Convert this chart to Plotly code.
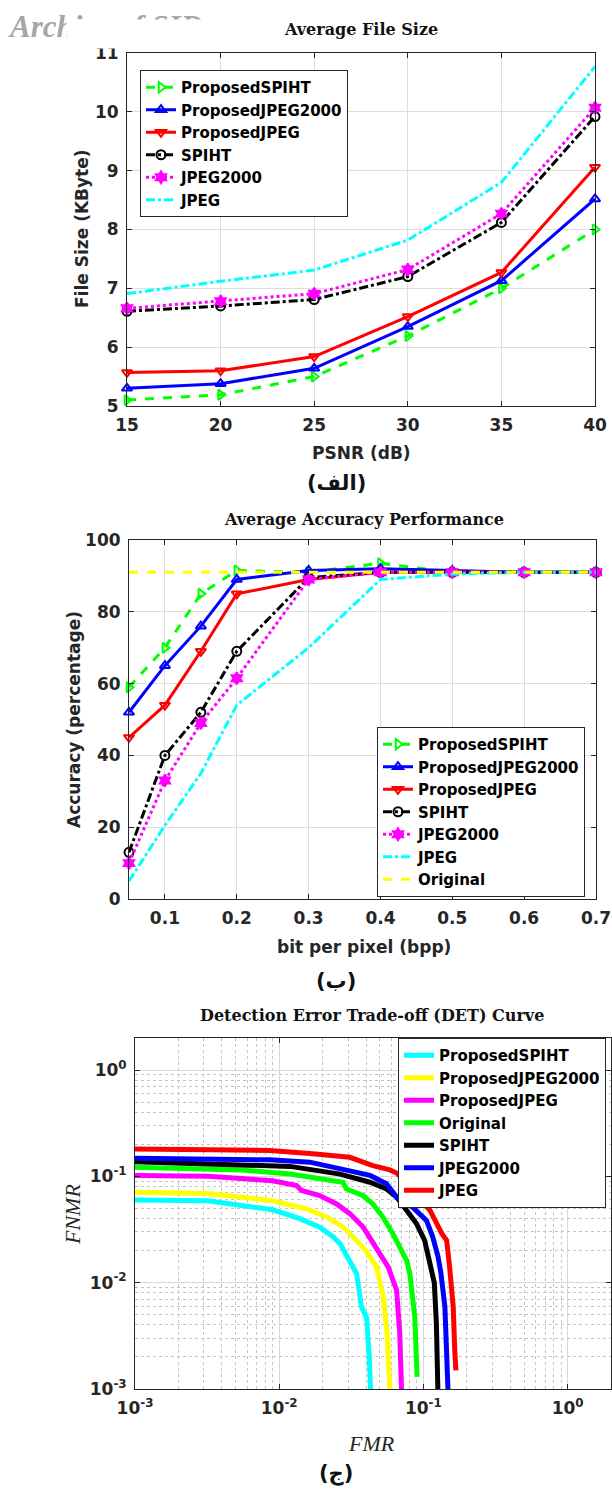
import plotly.graph_objects as go

W, H = 612, 1495

# ---------------- (a) Average File Size ----------------
psnr = [15, 20, 25, 30, 35, 40]
fs_prop_spiht = [5.10, 5.19, 5.50, 6.19, 7.00, 8.00]
fs_prop_jpeg2000 = [5.30, 5.38, 5.64, 6.35, 7.13, 8.52]
fs_prop_jpeg = [5.57, 5.60, 5.84, 6.52, 7.27, 9.06]
fs_spiht = [6.61, 6.70, 6.81, 7.20, 8.12, 9.92]
fs_jpeg2000 = [6.66, 6.78, 6.91, 7.32, 8.27, 10.07]
fs_jpeg = [6.91, 7.12, 7.31, 7.82, 8.80, 10.77]

# ---------------- (b) Average Accuracy Performance ----------------
bpp = [0.05, 0.1, 0.15, 0.2, 0.3, 0.4, 0.5, 0.6, 0.7]
bpp_ticks = [0.1, 0.2, 0.3, 0.4, 0.5, 0.6, 0.7]
bpp_ticktext = ["0.1", "0.2", "0.3", "0.4", "0.5", "0.6", "0.7"]
acc_prop_spiht = [59, 70, 85, 91.5, 91, 93.5, 91, 91, 91]
acc_prop_jpeg2000 = [52, 65, 76, 89, 91.5, 92, 91.5, 91, 91]
acc_prop_jpeg = [45, 54, 69, 85, 89, 91, 91, 91, 91]
acc_spiht = [13, 40, 52, 69, 89.5, 91, 91, 91, 91]
acc_jpeg2000 = [10, 33, 49, 61.5, 89, 91, 91, 91, 91]
acc_jpeg = [5, 20.5, 35, 54, 70, 89, 90.5, 91, 91]
acc_original = [91, 91, 91, 91, 91, 91, 91, 91, 91]

# ---------------- (c) DET curves ----------------
det_ticks = [0.001, 0.01, 0.1, 1]
det_ticktext = ["10<sup>-3</sup>", "10<sup>-2</sup>", "10<sup>-1</sup>", "10<sup>0</sup>"]

det_prop_spiht_fmr = [0.001, 0.0032, 0.009, 0.0139, 0.0191, 0.0237, 0.0264, 0.0309, 0.0344, 0.0372, 0.0404, 0.0421, 0.043]
det_prop_spiht_fnmr = [0.060, 0.059, 0.0485, 0.040, 0.0333, 0.0269, 0.0233, 0.0162, 0.0122, 0.0059, 0.0047, 0.0020, 0.001]

det_prop_jpeg2000_fmr = [0.001, 0.0032, 0.009, 0.0155, 0.0213, 0.0278, 0.0344, 0.0398, 0.0473, 0.0526, 0.056, 0.0585]
det_prop_jpeg2000_fnmr = [0.071, 0.069, 0.059, 0.0495, 0.0414, 0.0333, 0.025, 0.020, 0.0141, 0.0074, 0.0034, 0.001]

det_prop_jpeg_fmr = [0.001, 0.0032, 0.009, 0.0132, 0.0143, 0.0191, 0.025, 0.0309, 0.0382, 0.0448, 0.0513, 0.0569, 0.0652, 0.0685, 0.0705]
det_prop_jpeg_fnmr = [0.102, 0.100, 0.091, 0.082, 0.0736, 0.066, 0.055, 0.0446, 0.0333, 0.0233, 0.0178, 0.0141, 0.0085, 0.0034, 0.001]

det_original_fmr = [0.001, 0.0054, 0.0119, 0.0201, 0.0276, 0.0293, 0.038, 0.0446, 0.0524, 0.0614, 0.0685, 0.0764, 0.0805, 0.0871, 0.0904]
det_original_fnmr = [0.122, 0.115, 0.105, 0.0955, 0.088, 0.076, 0.066, 0.055, 0.0414, 0.0288, 0.0219, 0.0162, 0.0122, 0.0048, 0.0013]

det_spiht_fmr = [0.001, 0.0119, 0.0264, 0.0426, 0.0555, 0.0652, 0.0764, 0.0895, 0.102, 0.112, 0.119, 0.123, 0.126]
det_spiht_fnmr = [0.137, 0.124, 0.105, 0.088, 0.076, 0.064, 0.048, 0.036, 0.025, 0.0141, 0.010, 0.0042, 0.001]

det_jpeg2000_fmr = [0.001, 0.0086, 0.0163, 0.0264, 0.0426, 0.0555, 0.0652, 0.0845, 0.105, 0.116, 0.126, 0.132, 0.141, 0.148]
det_jpeg2000_fnmr = [0.148, 0.143, 0.136, 0.117, 0.102, 0.085, 0.064, 0.051, 0.0385, 0.027, 0.0178, 0.0126, 0.0059, 0.001]

det_jpeg_fmr = [0.001, 0.0025, 0.0086, 0.0163, 0.0309, 0.0446, 0.0585, 0.0655, 0.111, 0.134, 0.145, 0.152, 0.161, 0.165, 0.168]
det_jpeg_fnmr = [0.181, 0.180, 0.175, 0.164, 0.151, 0.126, 0.115, 0.107, 0.048, 0.029, 0.025, 0.014, 0.0059, 0.0023, 0.0015]

GREEN, BLUE, RED, BLACK = "#00FF00", "#0000FF", "#FF0000", "#000000"
MAGENTA, CYAN, YELLOW = "#FF00FF", "#00FFFF", "#FFFF00"


def fx(px):
    return px / W


def fy(py):
    return 1 - py / H


fig = go.Figure()

styles = [
    ("ProposedSPIHT", GREEN, "dash", "triangle-right-open"),
    ("ProposedJPEG2000", BLUE, "solid", "triangle-up-open"),
    ("ProposedJPEG", RED, "solid", "triangle-down-open"),
    ("SPIHT", BLACK, "dashdot", "circle-open"),
    ("JPEG2000", MAGENTA, "dot", "hexagram"),
    ("JPEG", CYAN, "dashdot", None),
]

top_series = [fs_prop_spiht, fs_prop_jpeg2000, fs_prop_jpeg, fs_spiht, fs_jpeg2000, fs_jpeg]
for (name, col, dash, sym), ys in zip(styles, top_series):
    fig.add_trace(go.Scatter(
        x=psnr, y=ys, name=name, xaxis="x", yaxis="y", legend="legend",
        mode="lines+markers" if sym else "lines",
        line=dict(color=col, width=3, dash=dash),
        marker=dict(symbol=sym or "circle", size=9, color=col, line=dict(color=col, width=2)),
        cliponaxis=False,
    ))

mid_series = [acc_prop_spiht, acc_prop_jpeg2000, acc_prop_jpeg, acc_spiht, acc_jpeg2000, acc_jpeg]
for (name, col, dash, sym), ys in zip(styles, mid_series):
    fig.add_trace(go.Scatter(
        x=bpp, y=ys, name=name, xaxis="x2", yaxis="y2", legend="legend2",
        mode="lines+markers" if sym else "lines",
        line=dict(color=col, width=3, dash=dash),
        marker=dict(symbol=sym or "circle", size=9, color=col, line=dict(color=col, width=2)),
        cliponaxis=False,
    ))
fig.add_trace(go.Scatter(
    x=bpp, y=acc_original, name="Original", xaxis="x2", yaxis="y2", legend="legend2",
    mode="lines", line=dict(color=YELLOW, width=3, dash="dash"), cliponaxis=False,
))

det = [
    ("ProposedSPIHT", CYAN, det_prop_spiht_fmr, det_prop_spiht_fnmr),
    ("ProposedJPEG2000", YELLOW, det_prop_jpeg2000_fmr, det_prop_jpeg2000_fnmr),
    ("ProposedJPEG", MAGENTA, det_prop_jpeg_fmr, det_prop_jpeg_fnmr),
    ("Original", GREEN, det_original_fmr, det_original_fnmr),
    ("SPIHT", BLACK, det_spiht_fmr, det_spiht_fnmr),
    ("JPEG2000", BLUE, det_jpeg2000_fmr, det_jpeg2000_fnmr),
    ("JPEG", RED, det_jpeg_fmr, det_jpeg_fnmr),
]
for name, col, xs, ys in det:
    fig.add_trace(go.Scatter(
        x=xs, y=ys, name=name, xaxis="x3", yaxis="y3", legend="legend3",
        mode="lines", line=dict(color=col, width=5),
    ))

AXC = "#262626"
GRID = "#dedede"
SANS = "DejaVu Sans"
tickfont = dict(family=SANS, size=17, color="#262626", weight="bold")


def lin_axis(domain, rng, tickvals, anchor, ticktext=None):
    d = dict(domain=domain, range=rng, tickvals=tickvals, anchor=anchor,
             showline=True, linecolor=AXC, linewidth=1, mirror="ticks",
             ticks="inside", ticklen=5, tickcolor=AXC,
             showgrid=True, gridcolor=GRID, gridwidth=1, zeroline=False,
             tickfont=tickfont, ticklabelstandoff=4, automargin=False,
             ticklabeloverflow="allow")
    if ticktext is not None:
        d["ticktext"] = ticktext
    return d


layout = dict(
    width=W, height=H, autosize=False,
    margin=dict(l=0, r=0, t=0, b=0, pad=0, autoexpand=False),
    paper_bgcolor="white", plot_bgcolor="white",
    showlegend=True,
)

layout["xaxis"] = lin_axis([fx(127), fx(595)], [15, 40], psnr, "y")
layout["yaxis"] = lin_axis([fy(406), fy(53)], [5, 11], [5, 6, 7, 8, 9, 10, 11], "x")
layout["xaxis2"] = lin_axis([fx(129), fx(596)], [0.05, 0.7], bpp_ticks, "y2", bpp_ticktext)
layout["yaxis2"] = lin_axis([fy(899), fy(540)], [0, 100], [0, 20, 40, 60, 80, 100], "x2")

minor_vals = [m * d for d in (0.001, 0.01, 0.1, 1) for m in range(2, 10) if m * d < 2.0]
for key, dom, anc in (("xaxis3", [fx(135), fx(611)], "y3"), ("yaxis3", [fy(1389), fy(1038)], "x3")):
    layout[key] = dict(domain=dom, type="log", range=[-3, 0.301], anchor=anc,
                       tickvals=det_ticks, ticktext=det_ticktext,
                       showline=True, linecolor=AXC, linewidth=1, mirror="ticks",
                       ticks="inside", ticklen=5, tickcolor=AXC,
                       showgrid=True, gridcolor="#d8d8d8", gridwidth=1, zeroline=False,
                       minor=dict(showgrid=True, gridcolor="#c4c4c4", griddash="dot", gridwidth=1,
                                  ticks="", tickvals=minor_vals),
                       tickfont=tickfont, ticklabelstandoff=4, automargin=False,
                       ticklabeloverflow="allow")

legfont = dict(family=SANS, size=15, color="black", weight="bold")
common_leg = dict(xanchor="left", yanchor="top", bgcolor="white", bordercolor=AXC,
                  borderwidth=1, font=legfont, tracegroupgap=0)
layout["legend"] = dict(x=fx(140), y=fy(70), **common_leg)
layout["legend2"] = dict(x=fx(377), y=fy(727), **common_leg)
layout["legend3"] = dict(x=fx(398), y=fy(1038), **common_leg)

serif_title = dict(family="DejaVu Serif", size=16, color="#111111")
axis_title = dict(family=SANS, size=17, color="#262626")
arabic = dict(family="DejaVu Sans", size=21, color="#111111")
italic_serif = dict(family="Liberation Serif", size=22, color="#262626")


def ann(text, px, py, font, angle=0, **kw):
    d = dict(text=text, x=fx(px), y=fy(py), xref="paper", yref="paper",
             xanchor="center", yanchor="middle", showarrow=False, font=font, textangle=angle)
    d.update(kw)
    return d


annotations = [
    dict(text="<b><i>Archive of SID</i></b>", x=fx(6), y=fy(26), xref="paper", yref="paper",
         xanchor="left", yanchor="middle", showarrow=False,
         font=dict(family="Liberation Serif", size=31, color="#a6a6a6")),
    dict(text=" ", x=fx(66), y=fy(19), xref="paper", yref="paper", xanchor="left", yanchor="top",
         showarrow=False, width=200, height=26, bgcolor="white", font=dict(size=10)),
    ann("<b>Average File Size</b>", 361, 30, serif_title),
    ann("<b>File Size (KByte)</b>", 82, 229, axis_title, angle=-90),
    ann("<b>PSNR (dB)</b>", 361, 453, axis_title),
    ann("<b>(الف)</b>", 336, 483, arabic),
    ann("<b>Average Accuracy Performance</b>", 364, 519, serif_title),
    ann("<b>Accuracy (percentage)</b>", 74, 720, axis_title, angle=-90),
    ann("<b>bit per pixel (bpp)</b>", 364, 947, axis_title),
    ann("<b>(ب)</b>", 336, 981, arabic),
    ann("<b>Detection Error Trade-off (DET) Curve</b>", 372, 1015, serif_title),
    ann("<i>FNMR</i>", 72, 1215, italic_serif, angle=-90),
    ann("<i>FMR</i>", 371, 1443, italic_serif),
    ann("<b>(ج)</b>", 336, 1473, arabic),
]
layout["annotations"] = annotations

fig.update_layout(**layout)
fig.write_html("out.html", config={"displayModeBar": False},
               post_script="document.body.style.margin='0';document.body.style.overflow='hidden';")
